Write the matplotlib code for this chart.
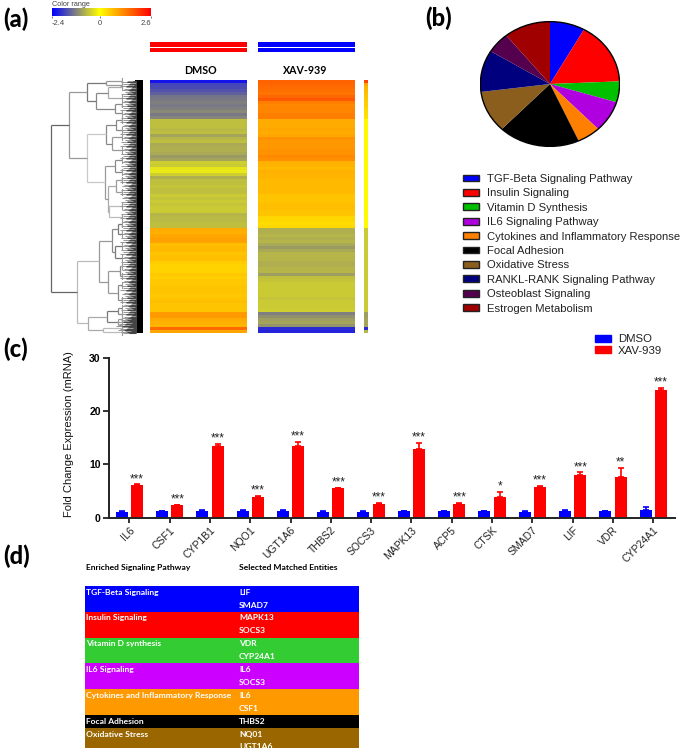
import numpy as np
import matplotlib
matplotlib.use('Agg')
import matplotlib.pyplot as plt
from matplotlib.colors import LinearSegmentedColormap, Normalize
from matplotlib.cm import ScalarMappable
from matplotlib.patches import Patch, Rectangle

W, H = 685, 750

# (a) heatmap rows, top to bottom
dmso_rows = [-2.2, -1.75, -1.7, -1.6, -1.5, -1.3, -1.25, -1.2, -1.25, -1.2, -1.1, -1.25, -1.15,
             -0.6, -0.6, -0.6, -0.65, -0.6, -0.85, -0.7, -0.6, -0.8, -0.75, -0.75, -0.8, -0.95, -0.85,
             -0.45, -0.5, -0.25, -0.2, -0.45, -0.75, -0.6, -0.6, -0.55, -0.6, -0.6, -0.5, -0.55, -0.5,
             -0.55, -0.5, -0.5, -0.7, -0.65, -0.65, -0.6, -0.6, 0.85, 0.8, 0.9, 0.95, 0.95,
             0.65, 0.7, 0.7, 0.6, 0.65, 0.65, 0.5, 0.45, 0.45, 0.45, 0.55, 0.5, 0.55, 0.55, 0.6, 0.6,
             0.6, 0.55, 0.6, 0.65, 0.6, 0.6, 0.6, 1.0, 1.0, 0.85, 0.8, 0.75, 1.5, 0.9]
xav_rows = [1.6, 1.55, 1.5, 1.45, 1.4, 1.55, 1.7, 1.3, 1.2, 1.25, 1.25, 1.3, 1.3,
            0.85, 0.85, 0.85, 0.9, 0.85, 0.9, 1.1, 1.05, 1.05, 1.05, 1.1, 1.1, 1.2, 1.15,
            0.8, 0.75, 0.7, 0.8, 0.75, 0.75, 0.7, 0.7, 0.7, 0.7, 0.7, 0.6, 0.6, 0.6, 0.65, 0.65,
            0.6, 0.6, 0.4, 0.4, 0.35, 0.4, -0.75, -0.75, -0.7, -0.75, -0.7, -0.8, -0.95, -0.8,
            -0.7, -0.7, -0.7, -0.75, -0.75, -0.7, -0.7, -0.9, -0.6, -0.55, -0.5, -0.5, -0.5, -0.5,
            -0.5, -0.55, -0.5, -0.5, -0.5, -0.45, -1.2, -1.05, -0.9, -0.85, -1.0, -2.0, -2.05]
side_rows = [1.9, 0.9, 0.75, 0.7, 0.65, 0.6, 0.55, 0.5, 0.5, 0.4, 0.35, 0.35, 0.3] + [0.05] * 36 \
    + [-0.5] * 28 + [-0.9, -0.9, -0.85, -0.85, -0.85, -2.0, -0.7]

# dendrogram: (distance, colour, upper child, lower child), a plain number is a leaf row
dendro = (51.3, '#666666',
          (69, '#999999',
           (87, '#777777',
            (106, '#999999', 81, 85),
            (96, '#888888',
             (108, '#aaaaaa', 87, 98),
             (115, '#888888', 104, 113))),
           (87, '#c8c8c8',
            (106, '#888888',
             (116, '#888888', 120, 130),
             (112, '#999999', 137, 150)),
            (105, '#999999',
             (115, '#888888', 160, 172),
             (108, '#aaaaaa',
              (116, '#999999', 180, 192),
              (109, '#bbbbbb', 206, 217))))),
          (77, '#bbbbbb',
           (99.5, '#999999',
            (112, '#888888',
             (118, '#777777', 224, 234),
             (115, '#777777', 246, 258)),
            (108.5, '#999999',
             (120, '#888888', 266, 276),
             (118, '#888888', 285, 300))),
           (88, '#aaaaaa',
            (107, '#777777',
             (118, '#888888', 308, 314),
             (118, '#999999', 319, 325)),
            (103, '#bbbbbb', 328, 332))))
twig_starts = [127, 121, 130, 123, 128, 120, 126, 131, 124, 122, 129, 125]

# (b) pathways
pathways = ['TGF-Beta Signaling Pathway', 'Insulin Signaling', 'Vitamin D Synthesis',
            'IL6 Signaling Pathway', 'Cytokines and Inflammatory Response', 'Focal Adhesion',
            'Oxidative Stress', 'RANKL-RANK Signaling Pathway', 'Osteoblast Signaling',
            'Estrogen Metabolism']
pathway_counts = [3, 6, 2, 3, 2, 7, 4, 4, 2, 4]
pathway_colors = ['#0000ff', '#ff0000', '#00c000', '#b000e0', '#ff8000', '#000000',
                  '#8b5e1e', '#00007f', '#55004f', '#a00000']

# (c) qPCR
genes = ['IL6', 'CSF1', 'CYP1B1', 'NQO1', 'UGT1A6', 'THBS2', 'SOCS3', 'MAPK13', 'ACP5', 'CTSK',
         'SMAD7', 'LIF', 'VDR', 'CYP24A1']
dmso_mean = [1.1, 1.15, 1.25, 1.25, 1.25, 1.1, 1.1, 1.15, 1.15, 1.2, 1.1, 1.25, 1.2, 1.4]
dmso_err = [0.05, 0.05, 0.1, 0.1, 0.1, 0.05, 0.05, 0.05, 0.05, 0.08, 0.05, 0.1, 0.1, 0.6]
xav_mean = [6.1, 2.3, 13.4, 3.9, 13.5, 5.5, 2.6, 12.8, 2.6, 3.8, 5.7, 8.0, 7.7, 23.9]
xav_err = [0.15, 0.1, 0.5, 0.2, 0.7, 0.05, 0.1, 1.2, 0.1, 1.0, 0.3, 0.5, 1.6, 0.5]
stars = ['***', '***', '***', '***', '***', '***', '***', '***', '***', '*', '***', '***', '**', '***']

# (d) table
table_names = ['TGF-Beta Signaling', 'Insulin Signaling', 'Vitamin D synthesis', 'IL6 Signaling',
               'Cytokines and Inflammatory Response', 'Focal Adhesion', 'Oxidative Stress']
table_genes = [['LIF', 'SMAD7'], ['MAPK13', 'SOCS3'], ['VDR', 'CYP24A1'], ['IL6', 'SOCS3'],
               ['IL6', 'CSF1'], ['THBS2'], ['NQ01', 'UGT1A6']]
table_colors = ['#0000ff', '#ff0000', '#33cc33', '#cc00ff', '#ff9900', '#000000', '#996600']

plt.rcParams['font.family'] = ['Liberation Sans', 'DejaVu Sans']

fig = plt.figure(figsize=(W / 100, H / 100), dpi=100)


def px_axes(x0, y0, x1, y1):
    return fig.add_axes([x0 / W, 1 - y1 / H, (x1 - x0) / W, (y1 - y0) / H])


# overlay in pixel units for labels and the dendrogram
page = px_axes(0, 0, W, H)
page.set_xlim(0, W)
page.set_ylim(H, 0)
page.axis('off')

for label, x, y in [('(a)', 3, 19), ('(b)', 425, 18), ('(c)', 3, 349), ('(d)', 3, 556)]:
    page.text(x, y, label, family='Lato', weight='black', fontsize=17, va='center')


def draw_tree(node):
    if not isinstance(node, tuple):
        return node, 122
    x, color, upper, lower = node
    y0, x0 = draw_tree(upper)
    y1, x1 = draw_tree(lower)
    page.plot([x, x], [y0, y1], color=color, lw=0.9, solid_capstyle='butt')
    for yy, xx, child in [(y0, x0, upper), (y1, x1, lower)]:
        end = child[0] if isinstance(child, tuple) else xx
        page.plot([x, end], [yy, yy], color=color, lw=0.9, solid_capstyle='butt')
        if not isinstance(child, tuple):
            # last bracket before the leaves
            page.plot([end, end], [yy - 3, yy + 3], color='#999999', lw=0.8)
    return (y0 + y1) / 2, x


draw_tree(dendro)
for i, row in enumerate(range(80, 333)):
    start = twig_starts[i % len(twig_starts)]
    if row > 317:
        start -= 4
    page.plot([start, 136], [row + 0.5, row + 0.5], color='#999999', lw=0.75, solid_capstyle='butt')
    page.plot([start + 6, 136], [row + 0.5, row + 0.5], color='#444444', lw=0.75, solid_capstyle='butt')
page.add_patch(Rectangle((135, 80), 8.5, 253, color='black', lw=0))

# colour scale, header bars and heatmap columns
heat_cmap = LinearSegmentedColormap.from_list(
    'heat', [(0, '#0000ff'), (0.24, '#808080'), (0.48, '#ffff00'), (1, '#ff0000')])
heat_norm = Normalize(-2.4, 2.6)

cbar_ax = px_axes(52, 8, 151, 16)
cbar = fig.colorbar(ScalarMappable(heat_norm, heat_cmap), cax=cbar_ax, orientation='horizontal',
                    ticks=[-2.4, 0, 2.6])
cbar.ax.set_xticklabels(['-2.4', '0', '2.6'], fontsize=5.5, color='#444444')
cbar_labels = cbar.ax.get_xticklabels()
cbar_labels[0].set_ha('left')
cbar_labels[2].set_ha('right')
cbar.ax.tick_params(length=1.5, width=0.5, pad=1.5, color='#444444')
cbar.outline.set_visible(False)
page.text(52, 4.5, 'Color range', fontsize=5.2, color='#444444', va='center')

for x0, x1, color in [(150, 247, '#ff0000'), (258, 355, '#0000ff')]:
    page.add_patch(Rectangle((x0, 42), x1 - x0, 4.5, color=color, lw=0))
    page.add_patch(Rectangle((x0, 48), x1 - x0, 4, color=color, lw=0))
page.text(200, 70, 'DMSO', family='Lato', weight='bold', fontsize=7.7, ha='center', va='center')
page.text(305.5, 70, 'XAV-939', family='Lato', weight='bold', fontsize=7.7, ha='center', va='center')

for rows, x0, x1 in [(dmso_rows, 150, 247), (xav_rows, 258, 355), (side_rows, 364, 368)]:
    hm = px_axes(x0, 80, x1, 333)
    hm.imshow(np.array(rows).reshape(-1, 1), cmap=heat_cmap, norm=heat_norm, aspect='auto',
              interpolation='nearest')
    hm.axis('off')

# (b) pie
pie_ax = px_axes(479.7, 21, 620.3, 147)
pie_ax.pie(pathway_counts, colors=pathway_colors, startangle=90, counterclock=False, radius=1,
           wedgeprops={'edgecolor': 'none'})
pie_ax.add_patch(plt.Circle((0, 0), 1, fill=False, edgecolor='black', lw=1))
pie_ax.set_aspect('auto')
pie_ax.set_xlim(-1.01, 1.01)
pie_ax.set_ylim(-1.01, 1.01)

pie_handles = [Patch(facecolor=c, edgecolor='#222222', lw=1, label=n)
               for c, n in zip(pathway_colors, pathways)]
fig.legend(handles=pie_handles, loc='upper left', bbox_to_anchor=(463 / W, 1 - 174 / H), frameon=False,
           fontsize=8.15, labelspacing=0.39, handlelength=1.42, handleheight=0.55, handletextpad=0.68,
           borderpad=0, borderaxespad=0, labelcolor='#222222')

# (c) bars
ax = px_axes(109, 358, 675, 517.5)
xpos = np.arange(len(genes))
ax.bar(xpos - 0.19, dmso_mean, 0.298, color='#0000ff', label='DMSO',
       yerr=[np.zeros(len(genes)), dmso_err], ecolor='#0000ff',
       error_kw={'capsize': 2.2, 'elinewidth': 1.2, 'capthick': 1.2})
ax.bar(xpos + 0.19, xav_mean, 0.298, color='#ff0000', label='XAV-939',
       yerr=[np.zeros(len(genes)), xav_err], ecolor='#ff0000',
       error_kw={'capsize': 2.2, 'elinewidth': 1.2, 'capthick': 1.2})
for i, s in enumerate(stars):
    ax.annotate(s, (i + 0.19, xav_mean[i] + xav_err[i]), xytext=(0, -0.5), textcoords='offset points',
                ha='center', va='bottom', fontsize=8.5, color='#222222')
ax.set_xlim(-0.504, 13.54)
ax.set_ylim(0, 30)
ax.set_yticks([0, 10, 20, 30])
ax.set_xticks(xpos)
ax.set_xticklabels(genes, rotation=45, ha='right', rotation_mode='anchor', fontsize=7.5, color='#222222')
ax.tick_params(axis='y', labelsize=7.5, width=1.3, length=4, pad=2, color='#222222')
ax.tick_params(axis='x', width=1.3, length=3.5, pad=2, color='#222222')
for t in ax.get_yticklabels():
    t.set_fontweight('bold')
ax.set_ylabel('Fold Change Expression (mRNA)', fontsize=8, labelpad=11, color='#111111', y=0.52)
ax.patch.set_alpha(0)
ax.spines[['top', 'right']].set_visible(False)
ax.spines[['left', 'bottom']].set_linewidth(1.4)
ax.spines[['left', 'bottom']].set_color('#222222')
fig.legend(handles=[Patch(color='#0000ff', label='DMSO'), Patch(color='#ff0000', label='XAV-939')],
           loc='upper left', bbox_to_anchor=(595 / W, 1 - 334.5 / H), frameon=False, fontsize=8.2,
           labelspacing=0.12, handlelength=1.42, handleheight=0.6, handletextpad=0.62,
           borderpad=0, borderaxespad=0, labelcolor='#222222')

# (d) table, cut off at the bottom like the figure
page.text(86, 570, 'Enriched Signaling Pathway', family='Lato', weight='bold', fontsize=6.1, va='baseline')
page.text(239, 570, 'Selected Matched Entities', family='Lato', weight='bold', fontsize=6.1, va='baseline')

tb = px_axes(85, 586, 359, 748)
tb.set_xlim(85, 359)
tb.set_ylim(748, 586)
tb.axis('off')
row_h = 12.9
y = 586
for name, entities, color in zip(table_names, table_genes, table_colors):
    tb.add_patch(Rectangle((85, y), 274, row_h * len(entities), color=color, lw=0))
    tb.text(86, y + row_h / 2 + 2.2, name, family='Lato', weight='bold', fontsize=6.1, color='white',
            va='baseline', clip_on=True)
    for k, g in enumerate(entities):
        tb.text(239, y + row_h * (k + 0.5) + 2.2, g, family='Lato', weight='bold', fontsize=6.1, color='white',
                va='baseline', clip_on=True)
    y += row_h * len(entities)

fig.savefig('out.png', dpi=100)
